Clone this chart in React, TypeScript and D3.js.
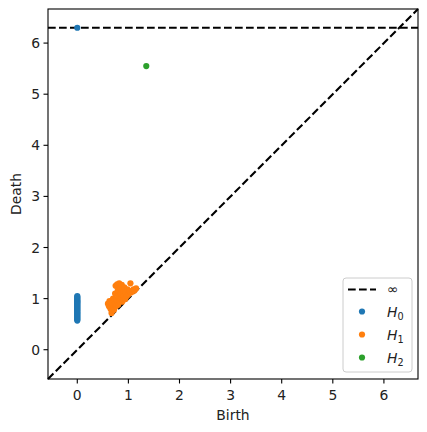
import * as d3 from "d3";

// persistence pairs
const h0Deaths = [
  0.57, 0.59, 0.61, 0.63, 0.65, 0.67, 0.69, 0.71, 0.73, 0.75, 0.77, 0.79, 0.81,
  0.83, 0.85, 0.87, 0.89, 0.91, 0.93, 0.95, 0.97, 0.99, 1.01, 1.03, 1.05,
];
const h0Infinite = [0];
const h1Pairs: [number, number][] = [
  [0.6, 0.9], [0.62, 0.85], [0.63, 0.95], [0.65, 0.8], [0.66, 0.92],
  [0.67, 0.72], [0.68, 0.76], [0.69, 0.88], [0.7, 1.0], [0.71, 0.83],
  [0.72, 0.78], [0.72, 0.95], [0.74, 0.9], [0.74, 1.1], [0.75, 1.25],
  [0.76, 0.85], [0.77, 0.98], [0.78, 1.28], [0.79, 1.15], [0.8, 0.88],
  [0.8, 1.05], [0.82, 1.3], [0.83, 0.95], [0.84, 1.2], [0.85, 1.1],
  [0.86, 1.0], [0.87, 1.27], [0.88, 0.94], [0.9, 0.98], [0.9, 1.15],
  [0.91, 1.05], [0.92, 1.22], [0.94, 0.99], [0.95, 1.12], [0.97, 1.05],
  [0.98, 1.18], [1.0, 1.08], [1.02, 1.15], [1.04, 1.3], [1.05, 1.12],
  [1.08, 1.14], [1.1, 1.18], [1.12, 1.16], [1.15, 1.2],
];
const h2Pairs: [number, number][] = [[1.35, 5.55]];
const infValue = 6.3;
const ticks = [0, 1, 2, 3, 4, 5, 6];
const legendLabels = ["0", "1", "2"];
const colors = ["#1f77b4", "#ff7f0e", "#2ca02c"];

const W = 427;
const H = 432;
const lo = -0.573;
const hi = 6.667;

export default function App() {
  const x = d3.scaleLinear().domain([lo, hi]).range([48, 418]);
  const y = d3.scaleLinear().domain([lo, hi]).range([379, 9]);
  const font = "DejaVu Sans, sans-serif";
  const dash = "7.7,3.3";

  const h0 = h0Deaths.map((d) => [0, d] as [number, number]).concat(
    h0Infinite.map((b) => [b, infValue] as [number, number])
  );
  const groups = [h0, h1Pairs, h2Pairs];

  return (
    <svg
      width={W}
      height={H}
      style={{ position: "absolute", left: 0, top: 0, background: "#fff" }}
      fontFamily={font}
    >
      <rect width={W} height={H} fill="#fff" />
      {/* diagonal */}
      <line
        x1={x(lo)} y1={y(lo)} x2={x(hi)} y2={y(hi)}
        stroke="#000" strokeWidth={2.1} strokeDasharray={dash}
      />
      {/* infinity line */}
      <line
        x1={x(lo)} y1={y(infValue)} x2={x(hi)} y2={y(infValue)}
        stroke="#000" strokeWidth={2.1} strokeDasharray={dash}
      />
      {groups.map((g, i) =>
        g.map((p, j) => (
          <circle key={`${i}-${j}`} cx={x(p[0])} cy={y(p[1])} r={3.1} fill={colors[i]} />
        ))
      )}
      {/* frame */}
      <rect x={48} y={9} width={370} height={370} fill="none" stroke="#000" strokeWidth={1.1} />
      {ticks.map((t) => (
        <g key={`x${t}`}>
          <line x1={x(t)} x2={x(t)} y1={379} y2={383.5} stroke="#000" strokeWidth={1.1} />
          <text x={x(t)} y={400} fontSize={13.9} textAnchor="middle" fill="#222">{t}</text>
        </g>
      ))}
      {ticks.map((t) => (
        <g key={`y${t}`}>
          <line x1={48} x2={43.5} y1={y(t)} y2={y(t)} stroke="#000" strokeWidth={1.1} />
          <text x={40} y={y(t) + 5} fontSize={13.9} textAnchor="end" fill="#222">{t}</text>
        </g>
      ))}
      <text x={233} y={420} fontSize={13.9} textAnchor="middle" fill="#222">Birth</text>
      <text
        transform={`translate(21,${y((lo + hi) / 2)}) rotate(-90)`}
        fontSize={13.9} textAnchor="middle" fill="#222"
      >Death</text>
      {/* legend */}
      <g>
        <rect x={343} y={278} width={69} height={94} rx={3} fill="#fff" fillOpacity={0.8} stroke="#ccc" strokeWidth={1} />
        <line x1={348} x2={376} y1={289.5} y2={289.5} stroke="#000" strokeWidth={2.1} strokeDasharray={dash} />
        <text x={387} y={294} fontSize={13.9} fill="#222">∞</text>
        {legendLabels.map((l, i) => (
          <g key={l}>
            <circle cx={362} cy={311.5 + i * 23} r={3.1} fill={colors[i]} />
            <text x={387} y={316.5 + i * 23} fontSize={13.9} fontStyle="italic" fill="#222">
              H<tspan fontSize={9.7} fontStyle="normal" dy={3}>{l}</tspan>
            </text>
          </g>
        ))}
      </g>
    </svg>
  );
}
